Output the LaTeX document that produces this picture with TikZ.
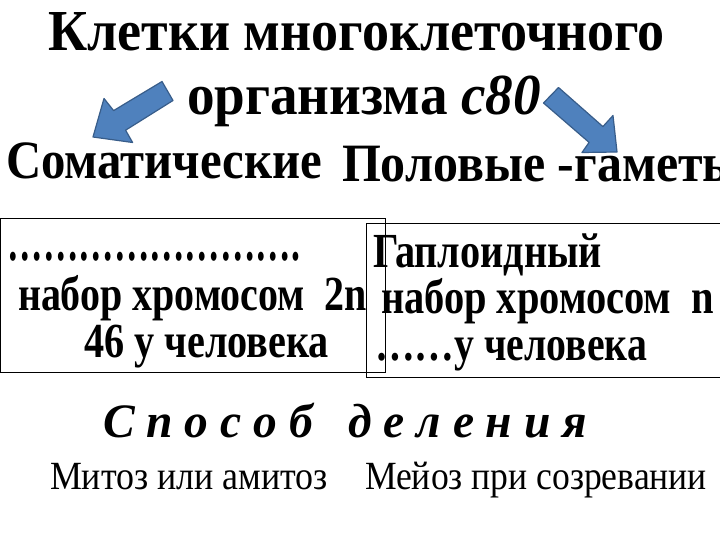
\documentclass[tikz,border=0pt]{standalone}
\usepackage{fontspec}
\usepackage{graphicx}
\setmainfont{Liberation Serif}
\newcommand{\fitw}[2]{\resizebox{#1}{\height}{#2}}
\definecolor{arrowblue}{HTML}{4F81BD}
\definecolor{arrowedge}{HTML}{385D8A}
\begin{document}
\begin{tikzpicture}[x=1pt,y=-1pt,
  txt/.style={inner sep=0pt, outer sep=0pt, anchor=base west},
  bigbold/.style={txt, font=\bfseries\fontsize{58}{58}\selectfont},
  midbold/.style={txt, font=\bfseries\fontsize{54}{54}\selectfont},
  boxtext/.style={txt, font=\bfseries\fontsize{49}{49}\selectfont},
  plain/.style={txt, font=\fontsize{40}{40}\selectfont},
  blockarrow/.style={fill=arrowblue, draw=arrowedge, line width=1.2pt, line join=round},
  boxline/.style={draw=black, line width=1pt}]
\useasboundingbox (0,0) rectangle (720,540);
\clip (0,0) rectangle (720,540);
\fill[white] (0,0) rectangle (720,540);

% title
\node[bigbold] (t1) at (48,51) {\fitw{617pt}{Клетки многоклеточного}};
\node[bigbold] (t2) at (187,115) {\fitw{354pt}{организма \textit{с80}}};

% categories
\node[midbold] (som) at (6,179) {\fitw{316pt}{Соматические}};
\node[midbold] (pol) at (342,182) {\fitw{400pt}{Половые -гаметы}};

% arrows
\filldraw[blockarrow] (173,100.5) -- (162,81.5) -- (113.6,110.6) -- (104,98.5)
  -- (93,137) -- (132.6,142.5) -- (125.6,130.2) -- cycle;
\filldraw[blockarrow] (543.5,103) -- (558.5,87.5) -- (602.9,126.6) -- (613,115.5)
  -- (617,152) -- (582,152.5) -- (589.1,142.4) -- cycle;

% left box text
\node[boxtext, font=\bfseries\fontsize{56}{56}\selectfont] (l1) at (8,260) {\fitw{292pt}{…………………….}};
\node[boxtext] (l2) at (18,310) {\fitw{349pt}{набор хромосом~~2n}};
\node[boxtext] (l3) at (84,357) {\fitw{245pt}{46 у человека}};

% right box text
\node[boxtext] (r1) at (373,268) {\fitw{229pt}{Гаплоидный}};
\node[boxtext] (r2) at (381,313) {\fitw{333pt}{набор хромосом~~n}};
\node[boxtext] (r3) at (375,360) {\fitw{272pt}{……у человека}};

% boxes
\draw[boxline] (0.7,219) rectangle (385,372);
\draw[boxline] (366,224) rectangle (725,377);

% division
\node[txt, font=\bfseries\itshape\fontsize{48}{48}\selectfont] (div) at (103,437)
  {\fitw{484pt}{С п о с о б~~ д е л е н и я}};
\node[plain] (mit) at (50,489) {\fitw{278pt}{Митоз или амитоз}};
\node[plain] (mei) at (365,489) {\fitw{342pt}{Мейоз при созревании}};
\end{tikzpicture}
\end{document}
